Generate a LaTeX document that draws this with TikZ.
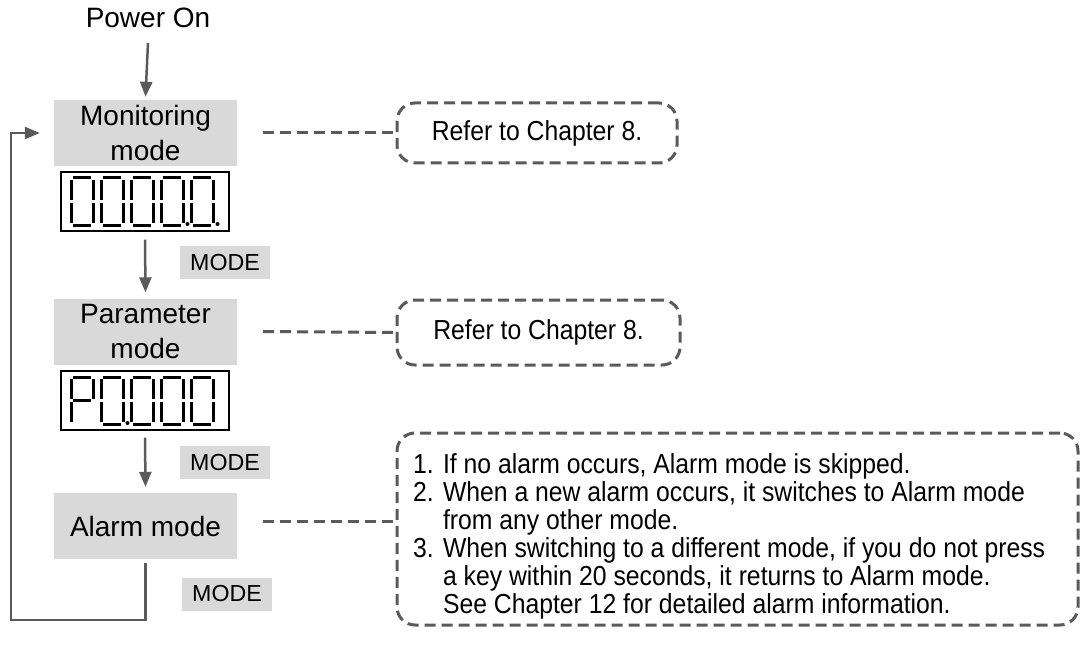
\documentclass[tikz,border=0pt]{standalone}
\usepackage{fontspec}
\setmainfont{Liberation Sans}
\newfontfamily\narrowfont[FakeStretch=0.9]{Liberation Sans}
\usetikzlibrary{arrows.meta}
\definecolor{lg}{HTML}{5A5A5A}
\definecolor{bg}{HTML}{D9D9D9}

\newcommand{\sevsegment}[3]{%
  \if a#3\draw[seg] (#1+2.2,#2) -- (#1+19.8,#2);\fi
  \if b#3\draw[seg] (#1+22,#2+2.2) -- (#1+22,#2+21.8);\fi
  \if c#3\draw[seg] (#1+22,#2+25.2) -- (#1+22,#2+44.8);\fi
  \if d#3\draw[seg] (#1+2.2,#2+47) -- (#1+19.8,#2+47);\fi
  \if e#3\draw[seg] (#1,#2+25.2) -- (#1,#2+44.8);\fi
  \if f#3\draw[seg] (#1,#2+2.2) -- (#1,#2+21.8);\fi
  \if g#3\draw[seg] (#1+2.2,#2+23.5) -- (#1+19.8,#2+23.5);\fi
}
\newcommand{\segdigit}[3]{\foreach \s in {#3}{\sevsegment{#1}{#2}{\s}}}
\newcommand{\segdot}[2]{\fill (#1+26.5,#2+46) circle (2pt);}

\begin{document}
\begin{tikzpicture}[x=1pt,y=-1pt,
  modebox/.style={fill=bg, minimum width=183pt, minimum height=66pt, inner sep=0pt,
    align=center, font=\fontsize{28}{35}\selectfont},
  keybox/.style={fill=bg, minimum width=90pt, minimum height=33pt, inner sep=0pt,
    font=\fontsize{23.2}{26}\selectfont},
  disp/.style={draw=black, line width=1.3pt, minimum width=168pt, minimum height=59pt, inner sep=0pt},
  seg/.style={line width=3pt, black},
  arr/.style={draw=lg, line width=2.5pt, -{Triangle[length=15pt,width=12pt]}},
  dline/.style={draw=lg, line width=3pt, dash pattern=on 11pt off 6pt},
  callout/.style={draw=lg, line width=3pt, dash pattern=on 11pt off 6pt, rounded corners=18pt,
    inner sep=0pt, font=\narrowfont\fontsize{27.5}{28}\selectfont},
  notetext/.style={inner sep=0pt, align=left, font=\narrowfont\fontsize{27.5}{28}\selectfont}
]
\useasboundingbox (0,0) rectangle (1081,655);

% main column
\node[font=\fontsize{28}{32}\selectfont] (pwr) at (148,18) {Power On};
\node[modebox] (mon) at (145.5,133) {Monitoring\\mode};
\node[disp] (d1) at (145,201.5) {};
\node[modebox] (par) at (145.5,331.5) {Parameter\\mode};
\node[disp] (d2) at (145,400.5) {};
\node[modebox] (alm) at (145.5,526) {Alarm mode};

\node[keybox] (k1) at (225,262.5) {MODE};
\node[keybox] (k2) at (225,462.5) {MODE};
\node[keybox] (k3) at (227,594) {MODE};

% display 1: 0000.0.
\segdigit{71}{178}{a,b,c,d,e,f}
\segdigit{101}{178}{a,b,c,d,e,f}
\segdigit{131}{178}{a,b,c,d,e,f}
\segdigit{161}{178}{a,b,c,d,e,f}
\segdigit{191}{178}{a,b,c,d,e,f}
\segdot{161}{178}
\segdot{191}{178}

% display 2: P0.000
\segdigit{71}{377}{a,b,e,f,g}
\segdigit{101}{377}{a,b,c,d,e,f}
\segdigit{131}{377}{a,b,c,d,e,f}
\segdigit{161}{377}{a,b,c,d,e,f}
\segdigit{191}{377}{a,b,c,d,e,f}
\segdot{101}{377}

% callouts
\node[callout, minimum width=280pt, minimum height=60pt] (r1) at (537,133) {Refer to Chapter 8.};
\node[callout, minimum width=283pt, minimum height=65pt] (r2) at (538.5,332.5) {Refer to Chapter 8.};
\node[callout, minimum width=681pt, minimum height=192pt] (r3) at (737.5,529) {};
\node[notetext, anchor=north west] (t3) at (413,453) {%
1. If no alarm occurs, Alarm mode is skipped.\\
2. When a new alarm occurs, it switches to Alarm mode\\
\hphantom{2. }from any other mode.\\
3. When switching to a different mode, if you do not press\\
\hphantom{3. }a key within 20 seconds, it returns to Alarm mode.\\
\hphantom{3. }See Chapter 12 for detailed alarm information.};

% solid connectors
\draw[arr] ([yshift=-25pt]pwr.center) -- ([yshift=3pt]mon.north);
\draw[arr] ([yshift=-8pt]d1.south) -- ([yshift=6pt]par.north);
\draw[arr] ([yshift=-7pt]d2.south) -- ([yshift=6pt]alm.north);
\coordinate (lb) at (11,620);
\draw[arr] ([yshift=-4pt]alm.south) |- (lb) |- ([xshift=-14pt]mon.west);

% dashed connectors
\draw[dline] ([xshift=26pt]mon.east) -- (r1.west);
\draw[dline] ([xshift=26pt]par.east) -- (r2.west);
\coordinate (j3) at (263,521);
\draw[dline] (j3) -- (j3 -| r3.west);
\end{tikzpicture}
\end{document}
